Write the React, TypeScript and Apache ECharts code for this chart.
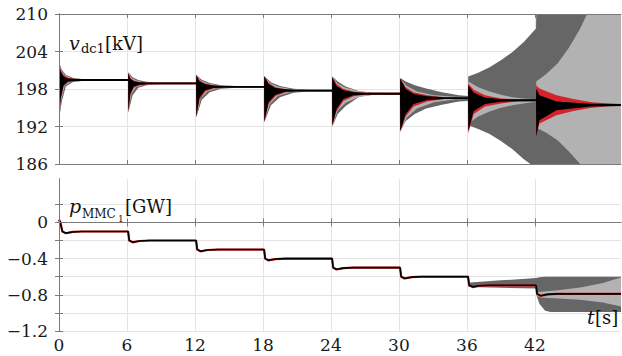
import React, { useEffect, useRef } from "react";
import * as echarts from "echarts";

const X_TICKS = [0, 6, 12, 18, 24, 30, 36, 42];
const V_TICKS = [186, 192, 198, 204, 210];
const P_TICKS = [-1.2, -1, -0.8, -0.6, -0.4, -0.2, 0, 0.2];
const P_LABELS = [-1.2, -0.8, -0.4, 0];

// top panel envelopes: [t, upper, lower]  (v_dc1 in kV)
const vDark = [
  [0, 202.3, 193.2], [0.25, 201.1, 196.0], [0.6, 200.3, 198.4], [1.2, 199.8, 199.1], [2, 199.6, 199.3],
  [6.1, 199.6, 199.3], [6.12, 200.7, 194.3], [6.5, 199.9, 197.0], [7, 199.45, 198.2], [7.7, 199.15, 198.6], [9, 199.05, 198.75],
  [12.1, 199.05, 198.75], [12.12, 200.3, 193.5], [12.6, 199.5, 196.3], [13.3, 198.95, 197.5], [14.3, 198.6, 198.05], [15.6, 198.5, 198.2],
  [18.1, 198.5, 198.2], [18.12, 200.1, 192.7], [18.7, 199.1, 195.4], [19.5, 198.5, 196.7], [20.7, 198.05, 197.4], [22, 197.9, 197.6],
  [24.1, 197.9, 197.6], [24.12, 200.0, 192.0], [24.6, 199.2, 194.0], [25.3, 198.4, 195.3], [26.5, 197.65, 196.75], [27.7, 197.4, 197.1],
  [30.1, 197.4, 197.1], [30.12, 199.75, 191.2], [30.6, 199.2, 192.9], [31.4, 198.6, 194.0], [32.4, 198.1, 194.9], [33.8, 197.5, 195.5], [35.3, 197.0, 196.0],
  [36.1, 196.9, 196.1], [36.12, 200.0, 192.2], [37, 200.6, 191.6], [38, 201.5, 190.8], [39, 202.6, 189.7], [40, 203.9, 188.4], [41, 205.5, 186.8], [41.6, 206.7, 186],
  [42.1, 207.7, 186], [42.12, 210, 186], [49.6, 210, 186],
];
const vLight = [
  [0, 202.2, 193.2], [0.2, 201.0, 196.2], [0.5, 200.3, 198.5], [1, 199.8, 199.1], [1.8, 199.6, 199.3],
  [6.1, 199.6, 199.3], [6.12, 200.6, 194.3], [6.4, 199.8, 197.2], [6.8, 199.4, 198.3], [7.4, 199.1, 198.65], [8.6, 199.05, 198.75],
  [12.1, 199.05, 198.75], [12.12, 200.3, 193.5], [12.5, 199.4, 196.5], [13.1, 198.9, 197.6], [13.9, 198.6, 198.1], [15, 198.5, 198.2],
  [18.1, 198.5, 198.2], [18.12, 200.1, 192.7], [18.6, 199.0, 195.6], [19.3, 198.4, 196.9], [20.4, 198.0, 197.5], [21.6, 197.9, 197.6],
  [24.1, 197.9, 197.6], [24.12, 199.95, 192.1], [24.6, 198.9, 194.6], [25.3, 198.2, 195.8], [26.4, 197.7, 196.7], [27.6, 197.45, 197.05],
  [30.1, 197.4, 197.1], [30.12, 199.7, 191.2], [30.7, 198.5, 193.5], [31.6, 197.6, 194.9], [33.1, 197.0, 195.9], [35, 196.75, 196.35],
  [36.1, 196.7, 196.4], [36.12, 199.2, 192.5], [37, 198.3, 193.6], [38, 197.6, 194.4], [39, 197.1, 195.0], [40, 196.7, 195.4], [41, 196.5, 195.7],
  [42.1, 196.35, 195.95], [42.12, 199.2, 191.8], [43, 200.4, 191.0], [44, 202.1, 189.8], [45, 204.6, 188.0], [46, 207.7, 186.0], [46.6, 210, 186], [49.6, 210, 186],
];
const vRed = [
  [0, 202.2, 193.2], [0.15, 201.0, 196.2], [0.4, 200.3, 198.4], [0.8, 199.8, 199.1], [1.5, 199.6, 199.3],
  [6.1, 199.6, 199.3], [6.12, 200.6, 194.3], [6.3, 199.8, 197.0], [6.6, 199.35, 198.2], [7.1, 199.1, 198.6], [8, 199.05, 198.75],
  [12.1, 199.05, 198.75], [12.12, 200.3, 193.5], [12.4, 199.4, 196.3], [12.9, 198.9, 197.6], [13.6, 198.6, 198.1], [14.5, 198.5, 198.2],
  [18.1, 198.5, 198.2], [18.12, 200.1, 192.7], [18.5, 199.0, 195.6], [19.1, 198.3, 196.9], [20, 197.95, 197.5], [21, 197.9, 197.6],
  [24.1, 197.9, 197.6], [24.12, 199.95, 192.1], [24.5, 198.8, 194.5], [25.1, 198.0, 196.1], [26, 197.6, 196.85], [27, 197.4, 197.1],
  [30.1, 197.4, 197.1], [30.12, 199.7, 191.2], [30.6, 198.3, 193.6], [31.3, 197.5, 195.2], [32.5, 197.0, 196.0], [34, 196.7, 196.4],
  [36.1, 196.7, 196.4], [36.12, 198.9, 190.9], [36.6, 197.9, 194.0], [37.6, 197.0, 195.2], [39, 196.5, 195.7], [40.5, 196.35, 196.0],
  [42.1, 196.35, 196.05], [42.12, 198.6, 190.4], [42.4, 198.1, 192.5], [43.9, 197.0, 193.8], [45.4, 196.4, 194.5], [47, 195.9, 195.0], [48.5, 195.7, 195.25], [49.6, 195.6, 195.3],
];
const vBlack = [
  [0, 202.1, 193.3], [0.15, 200.8, 196.5], [0.4, 200.0, 198.6], [0.8, 199.7, 199.2], [1.5, 199.6, 199.3],
  [6.1, 199.6, 199.3], [6.12, 200.5, 194.4], [6.3, 199.6, 197.3], [6.6, 199.25, 198.4], [7.1, 199.1, 198.7], [8, 199.05, 198.75],
  [12.1, 199.05, 198.75], [12.12, 200.2, 193.6], [12.4, 199.2, 196.6], [12.9, 198.75, 197.8], [13.6, 198.55, 198.15], [14.5, 198.5, 198.2],
  [18.1, 198.5, 198.2], [18.12, 200.0, 192.8], [18.5, 198.8, 195.9], [19.1, 198.15, 197.1], [20, 197.95, 197.55], [21, 197.9, 197.6],
  [24.1, 197.9, 197.6], [24.12, 199.9, 192.2], [24.5, 198.5, 194.8], [25.1, 197.8, 196.4], [26, 197.5, 197.0], [27, 197.4, 197.1],
  [30.1, 197.4, 197.1], [30.12, 199.7, 191.3], [30.6, 198.0, 194.0], [31.3, 197.2, 195.6], [32.5, 196.85, 196.25], [34, 196.7, 196.4],
  [36.1, 196.7, 196.4], [36.12, 198.6, 191.3], [36.6, 197.4, 194.5], [37.6, 196.6, 195.6], [39, 196.4, 195.95], [40.5, 196.35, 196.05],
  [42.1, 196.35, 196.05], [42.12, 198.1, 190.4], [42.4, 197.0, 193.0], [43.9, 196.0, 194.6], [46.9, 195.65, 195.2], [49.6, 195.6, 195.3],
];

// bottom panel: p_MMC1 in GW
const pDark = [
  [36.1, -0.68, -0.705], [36.3, -0.665, -0.715], [39, -0.64, -0.722], [42.1, -0.615, -0.73],
  [42.12, -0.615, -0.8], [42.4, -0.605, -0.9], [42.9, -0.6, -0.975], [43.4, -0.6, -0.99], [49.6, -0.6, -0.99],
];
const pLight = [
  [42.12, -0.77, -0.81], [42.5, -0.765, -0.83], [44, -0.75, -0.84], [46, -0.72, -0.855], [48, -0.67, -0.885], [49.6, -0.61, -0.93],
];
const pRed = [
  [0, 0.03], [0.12, 0.0], [0.3, -0.1], [0.6, -0.12], [1.2, -0.105], [2, -0.1],
  [6.1, -0.1], [6.2, -0.2], [6.5, -0.22], [7.1, -0.205], [8, -0.2],
  [12.1, -0.2], [12.2, -0.3], [12.5, -0.32], [13.1, -0.305], [14, -0.3],
  [18.1, -0.3], [18.2, -0.4], [18.5, -0.42], [19.1, -0.405], [20, -0.4],
  [24.1, -0.4], [24.2, -0.5], [24.5, -0.52], [25.1, -0.505], [26, -0.5],
  [30.1, -0.5], [30.2, -0.6], [30.5, -0.62], [31.1, -0.605], [32, -0.6],
  [36.1, -0.6], [36.2, -0.695], [36.5, -0.715], [37.1, -0.7], [38, -0.695],
  [42.1, -0.695], [42.2, -0.79], [42.5, -0.812], [43.1, -0.795], [44, -0.79], [49.6, -0.79],
];
const pBlack = [
  [0, 0.03], [0.12, 0.0], [0.3, -0.1], [0.6, -0.118], [1.2, -0.105], [2, -0.1],
  [6.1, -0.1], [6.2, -0.2], [6.5, -0.218], [7.1, -0.205], [8, -0.2],
  [12.1, -0.2], [12.2, -0.3], [12.5, -0.318], [13.1, -0.305], [14, -0.3],
  [18.1, -0.3], [18.2, -0.4], [18.5, -0.418], [19.1, -0.405], [20, -0.4],
  [24.1, -0.4], [24.2, -0.5], [24.5, -0.518], [25.1, -0.505], [26, -0.5],
  [30.1, -0.5], [30.2, -0.6], [30.5, -0.618], [31.1, -0.605], [32, -0.6],
  [36.1, -0.6], [36.2, -0.695], [36.5, -0.712], [37.1, -0.7], [38, -0.695],
  [42.1, -0.695], [42.2, -0.79], [42.5, -0.81], [43.1, -0.795], [44, -0.79], [49.6, -0.79],
];

const FONT = "'DejaVu Serif', serif";
const C_DARK = "#666666";
const C_LIGHT = "#b2b2b2";
const C_RED = "#d2232a";
const C_BLACK = "#000000";
const FRAME = "#7a7a7a";
const GRID = "#e4e4e4";

function band(data: number[][], color: string, xi: number, yi: number) {
  return {
    type: "custom",
    xAxisIndex: xi,
    yAxisIndex: yi,
    clip: true,
    silent: true,
    data,
    encode: { x: 0, y: [1, 2] },
    renderItem: (params: any, api: any) => {
      if (params.dataIndex !== 0) return null;
      const up = data.map((d) => api.coord([d[0], d[1]]));
      const lo = data.slice().reverse().map((d) => api.coord([d[0], d[2]]));
      return {
        type: "polygon",
        shape: { points: up.concat(lo) },
        style: { fill: color },
      };
    },
  };
}

function xAxes(grid: number, withLabels: boolean) {
  const common = {
    type: "value",
    gridIndex: grid,
    min: 0,
    max: 49.6,
    interval: 6,
  };
  return [
    {
      ...common,
      position: "bottom",
      axisLine: { show: true, lineStyle: { color: FRAME, width: 1 } },
      axisTick: { show: true, inside: true, length: 4, customValues: X_TICKS, lineStyle: { color: FRAME } },
      axisLabel: {
        show: withLabels,
        customValues: X_TICKS,
        margin: 5,
        fontFamily: FONT,
        fontSize: 17,
        color: "#1a1a1a",
      },
      splitLine: { show: true, lineStyle: { color: GRID, width: 1 } },
    },
    {
      ...common,
      position: "top",
      z: 5,
      axisLine: { show: true, lineStyle: { color: FRAME, width: 1 } },
      axisTick: { show: true, inside: true, length: 4, customValues: X_TICKS, lineStyle: { color: FRAME } },
      axisLabel: { show: false },
      splitLine: { show: false },
    },
  ];
}

function yAxes(grid: number, min: number, max: number, interval: number, ticks: number[], labels: number[], fmt: (v: number) => string) {
  const common = { type: "value", gridIndex: grid, min, max, interval };
  return [
    {
      ...common,
      position: "left",
      axisLine: { show: true, lineStyle: { color: FRAME, width: 1 } },
      axisTick: { show: true, inside: true, length: 4, customValues: ticks, lineStyle: { color: FRAME } },
      axisLabel: {
        show: true,
        customValues: labels,
        margin: 11,
        fontFamily: FONT,
        fontSize: 17,
        color: "#1a1a1a",
        formatter: fmt,
      },
      splitLine: { show: true, lineStyle: { color: GRID, width: 1 } },
    },
    {
      ...common,
      position: "right",
      z: 5,
      axisLine: { show: true, lineStyle: { color: FRAME, width: 1 } },
      axisTick: { show: true, inside: true, length: 4, customValues: ticks, lineStyle: { color: FRAME } },
      axisLabel: { show: false },
      splitLine: { show: false },
    },
  ];
}

function txt(x: number, y: number, text: string, size: number, italic = false) {
  return {
    type: "text",
    x,
    y,
    z: 100,
    silent: true,
    style: {
      text,
      font: `${italic ? "italic " : ""}${size}px ${FONT}`,
      fill: "#111111",
      textAlign: "left",
      textVerticalAlign: "middle",
    },
  };
}

export default function App() {
  const ref = useRef<HTMLDivElement>(null);
  useEffect(() => {
    document.body.style.margin = "0";
    if (!ref.current) return;
    const chart = echarts.init(ref.current, undefined, { renderer: "svg" });
    const vFmt = (v: number) => String(Math.round(v));
    const pFmt = (v: number) => {
      const r = Math.round(v * 10) / 10;
      if (r === 0) return "0";
      return (r < 0 ? "\u2212" : "") + Math.abs(r).toFixed(1);
    };
    const option: any = {
      animation: false,
      backgroundColor: "#ffffff",
      textStyle: { fontFamily: FONT },
      grid: [
        { left: 59, top: 14, width: 562, height: 150 },
        { left: 59, top: 179, width: 562, height: 152 },
      ],
      xAxis: [...xAxes(0, false), ...xAxes(1, true)],
      yAxis: [
        ...yAxes(0, 186, 210, 6, V_TICKS, V_TICKS, vFmt),
        ...yAxes(1, -1.2, 0.48, 0.2, P_TICKS, P_LABELS, pFmt),
      ],
      series: [
        band(vDark, C_DARK, 0, 0),
        band(vLight, C_LIGHT, 0, 0),
        band(vRed, C_RED, 0, 0),
        band(vBlack, C_BLACK, 0, 0),
        band(pDark, C_DARK, 2, 2),
        band(pLight, C_LIGHT, 2, 2),
        {
          type: "line",
          xAxisIndex: 2,
          yAxisIndex: 2,
          data: pRed,
          symbol: "none",
          lineStyle: { color: C_RED, width: 2.2 },
          silent: true,
        },
        {
          type: "line",
          xAxisIndex: 2,
          yAxisIndex: 2,
          data: pBlack,
          symbol: "none",
          lineStyle: { color: C_BLACK, width: 1.6 },
          silent: true,
        },
      ],
      graphic: [
        txt(69, 43.2, "v", 19, true),
        txt(81, 48.2, "dc1", 13),
        txt(105, 43.2, "[kV]", 18),
        txt(69, 206.2, "p", 19, true),
        txt(82, 214.2, "MMC", 12),
        txt(118, 219, "1", 9),
        txt(125, 206.2, "[GW]", 18),
        txt(587, 317.2, "t", 19, true),
        txt(595, 317.2, "[s]", 18),
      ],
    };
    chart.setOption(option);
    return () => chart.dispose();
  }, []);
  return <div ref={ref} style={{ width: 622, height: 356 }} />;
}
